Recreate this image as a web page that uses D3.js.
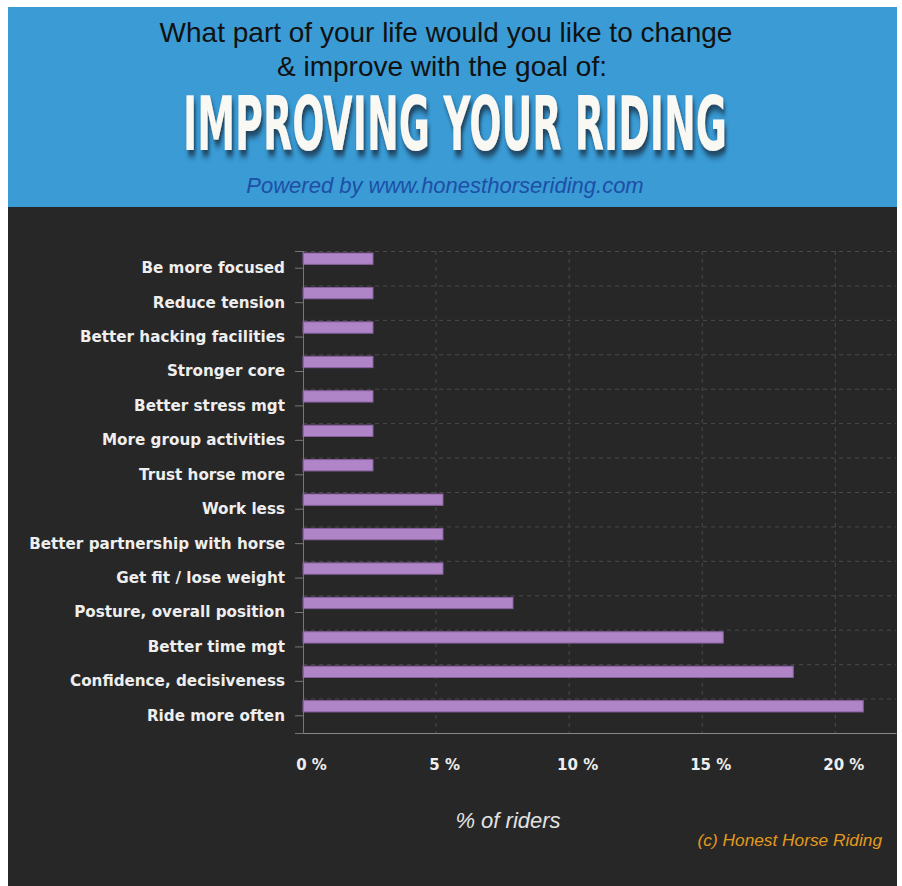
<!DOCTYPE html>
<html>
<head>
<meta charset="utf-8">
<script src="https://cdn.jsdelivr.net/npm/d3@7"></script>
<style>
  body { margin: 0; background: #ffffff; }
  svg { display: block; }
</style>
</head>
<body>
<div id="chart"></div>
<script>
// answers, top to bottom as drawn
var categories = [
  "Be more focused",
  "Reduce tension",
  "Better hacking facilities",
  "Stronger core",
  "Better stress mgt",
  "More group activities",
  "Trust horse more",
  "Work less",
  "Better partnership with horse",
  "Get fit / lose weight",
  "Posture, overall position",
  "Better time mgt",
  "Confidence, decisiveness",
  "Ride more often"
];
// % of riders
var values = [2.63, 2.63, 2.63, 2.63, 2.63, 2.63, 2.63,
              5.26, 5.26, 5.26, 7.89, 15.79, 18.42, 21.05];
var xTicks = [0, 5, 10, 15, 20];

var W = 902, H = 886;

var svg = d3.select("#chart").append("svg")
    .attr("width", W)
    .attr("height", H);

// drop shadow for the big title
var defs = svg.append("defs");
var f = defs.append("filter").attr("id", "shadow")
    .attr("x", "-10%").attr("y", "-20%").attr("width", "130%").attr("height", "160%");
f.append("feDropShadow")
    .attr("dx", 3).attr("dy", 6).attr("stdDeviation", 3)
    .attr("flood-color", "#15304a").attr("flood-opacity", 0.85);

// header band
svg.append("rect")
    .attr("x", 8).attr("y", 7)
    .attr("width", 889).attr("height", 200)
    .attr("fill", "#3a9bd5");

// dark chart panel
svg.append("rect")
    .attr("x", 8).attr("y", 207)
    .attr("width", 889).attr("height", H - 207)
    .attr("fill", "#272727");

var head = svg.append("g").attr("text-anchor", "middle");
head.append("text")
    .attr("x", 446).attr("y", 42)
    .attr("font-family", "Liberation Sans, Arial, sans-serif")
    .attr("font-size", 28)
    .attr("fill", "#111")
    .text("What part of your life would you like to change");
head.append("text")
    .attr("x", 442).attr("y", 76)
    .attr("font-family", "Liberation Sans, Arial, sans-serif")
    .attr("font-size", 28)
    .attr("fill", "#111")
    .text("& improve with the goal of:");

// big condensed title, squeezed to its width in the picture
var big = head.append("g")
    .attr("transform", "translate(455,150)");
var bigText = big.append("text")
    .attr("x", 0).attr("y", 0)
    .attr("font-family", "Liberation Sans Narrow, DejaVu Sans Condensed, sans-serif")
    .attr("font-weight", "bold")
    .attr("font-size", 74)
    .attr("fill", "#faf8f2")
    .attr("filter", "url(#shadow)")
    .text("IMPROVING YOUR RIDING");
var bw = bigText.node().getComputedTextLength();
bigText.attr("transform", "scale(" + (544 / bw) + ",1)");

head.append("text")
    .attr("x", 445).attr("y", 193)
    .attr("font-family", "Liberation Sans, Arial, sans-serif")
    .attr("font-style", "italic")
    .attr("font-size", 22)
    .attr("fill", "#1d4fa6")
    .text("Powered by www.honesthorseriding.com");

// plot area
var margin = {top: 251, left: 303, right: 896, bottom: 733};

var x = d3.scaleLinear()
    .domain([0, 22.28])
    .range([margin.left, margin.right]);

var y = d3.scaleBand()
    .domain(categories)
    .range([margin.top, margin.bottom]);

var g = svg.append("g");

// dashed grid
g.selectAll(".vgrid")
    .data(xTicks.slice(1))
    .enter().append("line")
    .attr("class", "vgrid")
    .attr("x1", d => x(d)).attr("x2", d => x(d))
    .attr("y1", margin.top).attr("y2", margin.bottom)
    .attr("stroke", "#4a4a4a")
    .attr("stroke-dasharray", "4,4");

g.selectAll(".hgrid")
    .data(categories)
    .enter().append("line")
    .attr("class", "hgrid")
    .attr("x1", margin.left).attr("x2", margin.right)
    .attr("y1", d => y(d) + 0.5).attr("y2", d => y(d) + 0.5)
    .attr("stroke", "#4a4a4a")
    .attr("stroke-dasharray", "4,4");

// bars sit in the top part of each band
var barH = y.bandwidth() * 0.33;
g.selectAll(".bar")
    .data(values)
    .enter().append("rect")
    .attr("class", "bar")
    .attr("x", x(0))
    .attr("y", (d, i) => y(categories[i]) + 2)
    .attr("width", d => x(d) - x(0))
    .attr("height", barH)
    .attr("fill", "#b085c8")
    .attr("stroke", "#86609c")
    .attr("stroke-width", 1);

// y axis
var yAxis = g.append("g")
    .attr("transform", "translate(" + margin.left + ",0)")
    .call(d3.axisLeft(y).tickSize(8).tickPadding(10));
yAxis.select(".domain").attr("stroke", "#777");
yAxis.selectAll(".tick line").attr("stroke", "#777");
yAxis.selectAll(".tick text")
    .attr("fill", "#eeeeee")
    .attr("font-family", "DejaVu Sans, Verdana, sans-serif")
    .attr("font-weight", "bold")
    .attr("font-size", 15.2);

// x axis
var xAxis = g.append("g")
    .attr("transform", "translate(0," + margin.bottom + ")")
    .call(d3.axisBottom(x).tickValues(xTicks).tickSize(0).tickPadding(26)
      .tickFormat(d => d + " %"));
xAxis.select(".domain").attr("stroke", "#888");
xAxis.selectAll(".tick text")
    .attr("fill", "#eeeeee")
    .attr("dx", 8)
    .attr("font-family", "DejaVu Sans, Verdana, sans-serif")
    .attr("font-weight", "bold")
    .attr("font-size", 15);

svg.append("text")
    .attr("x", 508).attr("y", 828)
    .attr("text-anchor", "middle")
    .attr("font-family", "Liberation Sans, Arial, sans-serif")
    .attr("font-style", "italic")
    .attr("font-size", 22)
    .attr("fill", "#e2e2e2")
    .text("% of riders");

svg.append("text")
    .attr("x", 882).attr("y", 846)
    .attr("text-anchor", "end")
    .attr("font-family", "Liberation Sans, Arial, sans-serif")
    .attr("font-style", "italic")
    .attr("font-size", 17.3)
    .attr("fill", "#e39a1c")
    .text("(c) Honest Horse Riding");
</script>
</body>
</html>
